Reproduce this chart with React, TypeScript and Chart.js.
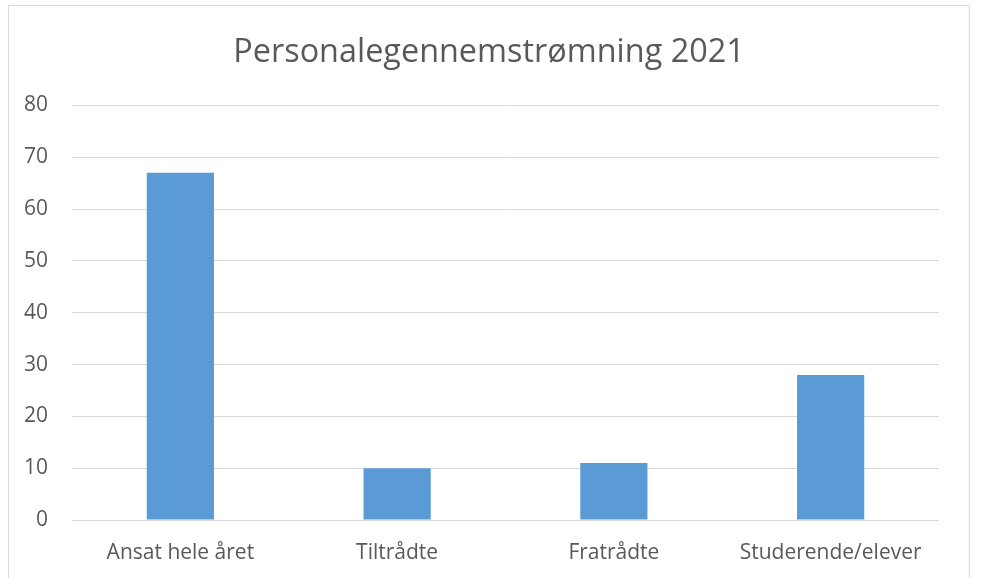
import React, { useEffect, useRef } from "react";
import { Chart, registerables } from "chart.js";

Chart.register(...registerables);

const categories = ["Ansat hele året", "Tiltrådte", "Fratrådte", "Studerende/elever"];
const values = [67, 10, 11, 28];
const titleText = "Personalegennemstrømning 2021";
const yMin = 0;
const yMax = 80;
const yStep = 10;

const FONT = "'Open Sans', 'Noto Sans', sans-serif";

export default function App() {
  const ref = useRef<HTMLCanvasElement | null>(null);

  useEffect(() => {
    if (!ref.current) return;
    const chart = new Chart(ref.current, {
      type: "bar",
      data: {
        labels: categories,
        datasets: [
          {
            data: values,
            backgroundColor: "#5B9BD5",
            borderWidth: 0,
            barPercentage: 0.31,
            categoryPercentage: 1,
            yAxisID: "y",
          },
        ],
      },
      options: {
        responsive: false,
        animation: false,
        layout: { padding: { left: 0, right: 0, top: 0, bottom: 15 } },
        plugins: {
          legend: { display: false },
          tooltip: { enabled: false },
          title: {
            display: true,
            text: titleText,
            color: "#595959",
            font: { family: FONT, size: 32.4, weight: "normal" },
            padding: { top: 27, bottom: 33.6 },
          },
        },
        scales: {
          x: {
            grid: { display: false, drawTicks: false },
            border: { display: false },
            ticks: {
              color: "#595959",
              font: { family: FONT, size: 21 },
              padding: 20,
              maxRotation: 0,
            },
            afterFit: (scale: any) => {
              scale.height = 43;
            },
          },
          y: {
            min: yMin,
            max: yMax,
            grid: { color: "#d9d9d9", lineWidth: 1, drawTicks: false },
            border: { display: false },
            ticks: {
              stepSize: yStep,
              color: "#595959",
              font: { family: FONT, size: 21 },
              padding: 24,
            },
            afterFit: (scale: any) => {
              scale.width = 63;
            },
          },
          yRight: {
            position: "right",
            display: true,
            grid: { display: false, drawTicks: false },
            border: { display: false },
            ticks: { display: false },
            afterFit: (scale: any) => {
              scale.width = 30;
            },
          },
        },
      },
    });
    return () => chart.destroy();
  }, []);

  return (
    <div
      style={{
        position: "fixed",
        left: 8,
        top: 5,
        width: 960,
        height: 580,
        border: "1px solid #d9d9d9",
        background: "#fff",
      }}
    >
      <canvas ref={ref} width={960} height={572} style={{ display: "block" }} />
    </div>
  );
}
